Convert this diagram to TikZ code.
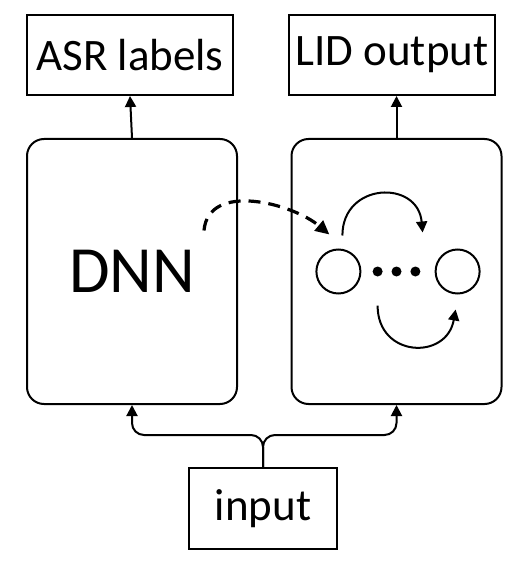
\documentclass[tikz,border=0pt]{standalone}
\usepackage{fontspec}
\setmainfont{Carlito}
\usetikzlibrary{positioning,arrows.meta}

\tikzset{
    outbox/.style={draw, line width=2pt, minimum width=206pt, minimum height=80pt,
        font=\fontsize{45}{50}\selectfont},
    netbox/.style={draw, line width=2pt, rounded corners=17pt, minimum width=210pt,
        minimum height=265pt},
    state/.style={draw, circle, line width=2pt, minimum size=44pt, inner sep=0pt},
    dot/.style={fill, circle, minimum size=10pt, inner sep=0pt},
    arr/.style={line width=2pt, -{Triangle[length=11pt, width=11pt]}},
    transfer/.style={line width=3.2pt, dash pattern=on 12pt off 8pt,
        -{Triangle[length=14pt, width=13pt]}},
}

\begin{document}
\begin{tikzpicture}[x=1pt, y=1pt]
        \useasboundingbox (0,0) rectangle (529,-569);
        \node[outbox] (asr) at (130,-55) {ASR labels};
        \node[outbox, right=54pt of asr] (lid) {LID output};
        \node[netbox, font=\fontsize{66}{70}\selectfont] (dnn) at (132,-271.5) {DNN};
        \node[netbox] (lidnet) at (396.5,-271.5) {};
        \node[outbox, minimum width=148pt, minimum height=81pt] (input) at (263,-508.5) {input};

        % states inside the LID network
        \node[dot] (d2) at (lidnet.center) {};
        \node[dot, left=8.5pt of d2] (d1) {};
        \node[dot, right=8.5pt of d2] (d3) {};
        \node[state, left=11pt of d1] (s1) {};
        \node[state, right=14pt of d3] (s2) {};

        \draw[arr] (dnn.north) -- (asr.south);
        \draw[arr] (lidnet.north) -- (lidnet.north |- lid.south);

        \coordinate (split) at (input.north |- 0,-435);
        \draw[arr, rounded corners=12pt] (input.north) -- (split) -| (dnn.south);
        \draw[arr, rounded corners=12pt] (input.north) -- (split) -| (lidnet.south);

        \draw[transfer]
            ([xshift=72pt, yshift=41pt]dnn.center) to[out=85, in=140] ([xshift=-9pt, yshift=14pt]s1.north);
        \draw[arr] ([xshift=4pt, yshift=13pt]s1.north) to[out=90, in=95, looseness=1.7] ([xshift=-35pt, yshift=16pt]s2.north);
        \draw[arr] ([yshift=-29pt]d1.south) to[out=-90, in=-100, looseness=1.7] ([xshift=-2pt, yshift=-15pt]s2.south);
\end{tikzpicture}
\end{document}
